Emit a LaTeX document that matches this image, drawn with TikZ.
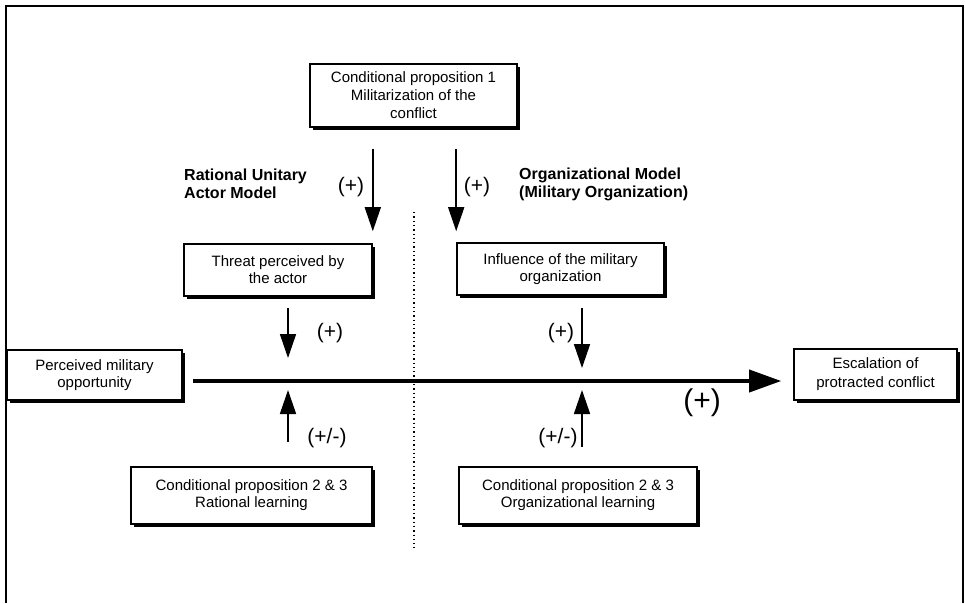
\documentclass[tikz,border=0pt]{standalone}
\usepackage{fontspec}
\setmainfont{Liberation Sans}
\usetikzlibrary{arrows.meta,shadows,calc}
\begin{document}
\begin{tikzpicture}[x=1pt,y=-1pt,
 box/.style={draw=black, line width=1.6pt, fill=white, rectangle, inner sep=0pt, align=center,
   font=\fontsize{15}{17}\selectfont,
   drop shadow={shadow xshift=2.5pt, shadow yshift=-2.5pt, opacity=1, fill=black}},
 lbl/.style={font=\bfseries\fontsize{16}{18}\selectfont, align=left, anchor=west, inner sep=0pt},
 sign/.style={font=\fontsize{21}{22}\selectfont, inner sep=0pt},
 thinarr/.style={line width=1.6pt, -{Triangle[width=16pt,length=24pt]}},
 mainarr/.style={line width=3.8pt, -{Triangle[width=22pt,length=32pt]}},
 dotline/.style={line width=1.3pt, dash pattern=on 1.3pt off 3pt},
 frame/.style={line width=2pt}
]
\useasboundingbox (0,0) rectangle (965,603);
\coordinate (f1) at (6,603);
\coordinate (f2) at (6,6);
\coordinate (f3) at (963,6);
\coordinate (f4) at (963,603);
\draw[frame] (f1) -- (f2) -- (f3) -- (f4);

\node[box, minimum width=207pt, minimum height=63pt, font=\fontsize{15}{18}\selectfont] (prop1) at (413.5,95.5) {Conditional proposition 1\\Militarization of the\\conflict};
\node[box, minimum width=188pt, minimum height=52pt] (threat) at (278,270) {Threat perceived by\\the actor};
\node[box, minimum width=207pt, minimum height=52pt] (infl) at (560.5,269) {Influence of the military\\organization};
\node[box, minimum width=175pt, minimum height=50pt] (opp) at (94.5,375) {Perceived military\\opportunity};
\node[box, minimum width=163pt, minimum height=51pt, font=\fontsize{15}{19}\selectfont] (esc) at (875.5,374.5) {Escalation of\\protracted conflict};
\node[box, minimum width=241pt, minimum height=57pt] (ratl) at (251.5,495.5) {Conditional proposition 2 \& 3\\Rational learning};
\node[box, minimum width=238pt, minimum height=57pt] (orgl) at (578,495.5) {Conditional proposition 2 \& 3\\Organizational learning};

\node[lbl] (rua) at (184,184) {Rational Unitary\\Actor Model};
\node[lbl] (om) at (519,184) {Organizational Model\\(Military Organization)};

\coordinate (j1) at (288,381);
\coordinate (j2) at (582,381);
\coordinate (d1) at (414,212);
\coordinate (d2) at (414,548);
\draw[dotline] (d1) -- (d2);

\draw[mainarr, shorten <=10pt, shorten >=12pt] (opp.east |- j1) -- (esc.west |- j1);

\draw[thinarr, shorten <=21pt, shorten >=12pt] (prop1.south -| threat.east) -- (threat.north east);
\draw[thinarr, shorten <=21pt, shorten >=11pt] (prop1.south -| infl.west) -- (infl.north west);
\draw[thinarr, shorten <=11pt, shorten >=23pt] (threat.south -| j1) -- (j1);
\draw[thinarr, shorten <=12pt, shorten >=13pt] (infl.south -| j2) -- (j2);
\draw[thinarr, shorten <=24pt, shorten >=9pt] (ratl.north -| j1) -- (j1);
\draw[thinarr, shorten <=19pt, shorten >=9pt] (orgl.north -| j2) -- (j2);

\node[sign] (s1) at (351,187) {(+)};
\node[sign] (s2) at (477,187) {(+)};
\node[sign] (s3) at (330,333) {(+)};
\node[sign] (s4) at (561,333) {(+)};
\node[sign] (s5) at (327,438) {(+/-)};
\node[sign] (s6) at (558,438) {(+/-)};
\node[sign, font=\fontsize{30}{32}\selectfont] (s7) at (702,403) {(+)};
\end{tikzpicture}
\end{document}
